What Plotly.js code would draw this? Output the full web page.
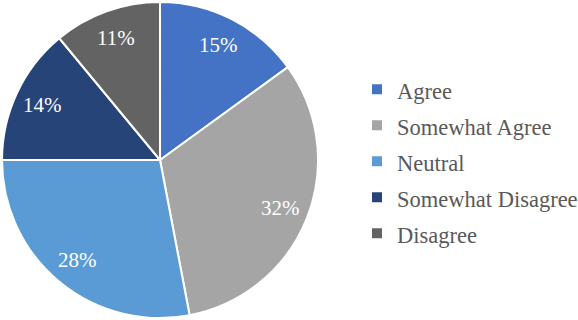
<!DOCTYPE html>
<html>
<head>
<meta charset="utf-8">
<script src="https://cdn.plot.ly/plotly-3.0.1.min.js"></script>
<style>html,body{margin:0;padding:0;background:#fff;}#chart{width:578px;height:320px;}</style>
</head>
<body>
<div id="chart"></div>
<script>
const categories = ["Agree", "Somewhat Agree", "Neutral", "Somewhat Disagree", "Disagree"];
const values = [15, 32, 28, 14, 11];
const colors = ["#4472C4", "#A5A5A5", "#5B9BD5", "#264478", "#636363"];

const serif = "'Liberation Serif', 'Times New Roman', serif";
const W = 578, H = 320;
const dom = {x: [0.0035, 0.5502], y: [0.00625, 0.99375]};

const legendLabels = categories.map(c => '<span style="font-size:22.5px">' + c + '</span>');

const trace = {
  type: 'pie',
  labels: legendLabels,
  values: values,
  sort: false,
  direction: 'clockwise',
  rotation: 0,
  marker: {colors: colors, line: {color: '#ffffff', width: 2}},
  textinfo: 'none',
  hoverinfo: 'none',
  domain: dom
};

// percentage labels placed along each slice's mid-angle (derived from the data)
const total = values.reduce((a, b) => a + b, 0);
const cx = (dom.x[0] + dom.x[1]) / 2 * W;
const cy = (dom.y[0] + dom.y[1]) / 2 * H;
const R = Math.min((dom.x[1] - dom.x[0]) * W, (dom.y[1] - dom.y[0]) * H) / 2;
let cum = 0;
const annotations = values.map(v => {
  const mid = (cum + v / 2) / total * 2 * Math.PI;
  cum += v;
  const r = 0.82 * R;
  return {
    xref: 'paper', yref: 'paper',
    x: (cx + r * Math.sin(mid)) / W,
    y: (cy + r * Math.cos(mid)) / H,
    text: Math.round(v / total * 100) + '%',
    showarrow: false,
    xanchor: 'center', yanchor: 'middle',
    font: {family: serif, size: 21, color: '#ffffff'}
  };
});

const layout = {
  width: W, height: H,
  margin: {l: 0, r: 0, t: 0, b: 0, autoexpand: false},
  paper_bgcolor: '#ffffff',
  showlegend: true,
  annotations: annotations,
  legend: {
    x: 0.6177, xanchor: 'left', y: 0.4947, yanchor: 'middle',
    font: {family: serif, size: 25.4, color: '#595959'},
    bgcolor: 'rgba(0,0,0,0)'
  }
};

Plotly.newPlot('chart', [trace], layout, {displayModeBar: false, staticPlot: true});
</script>
</body>
</html>
